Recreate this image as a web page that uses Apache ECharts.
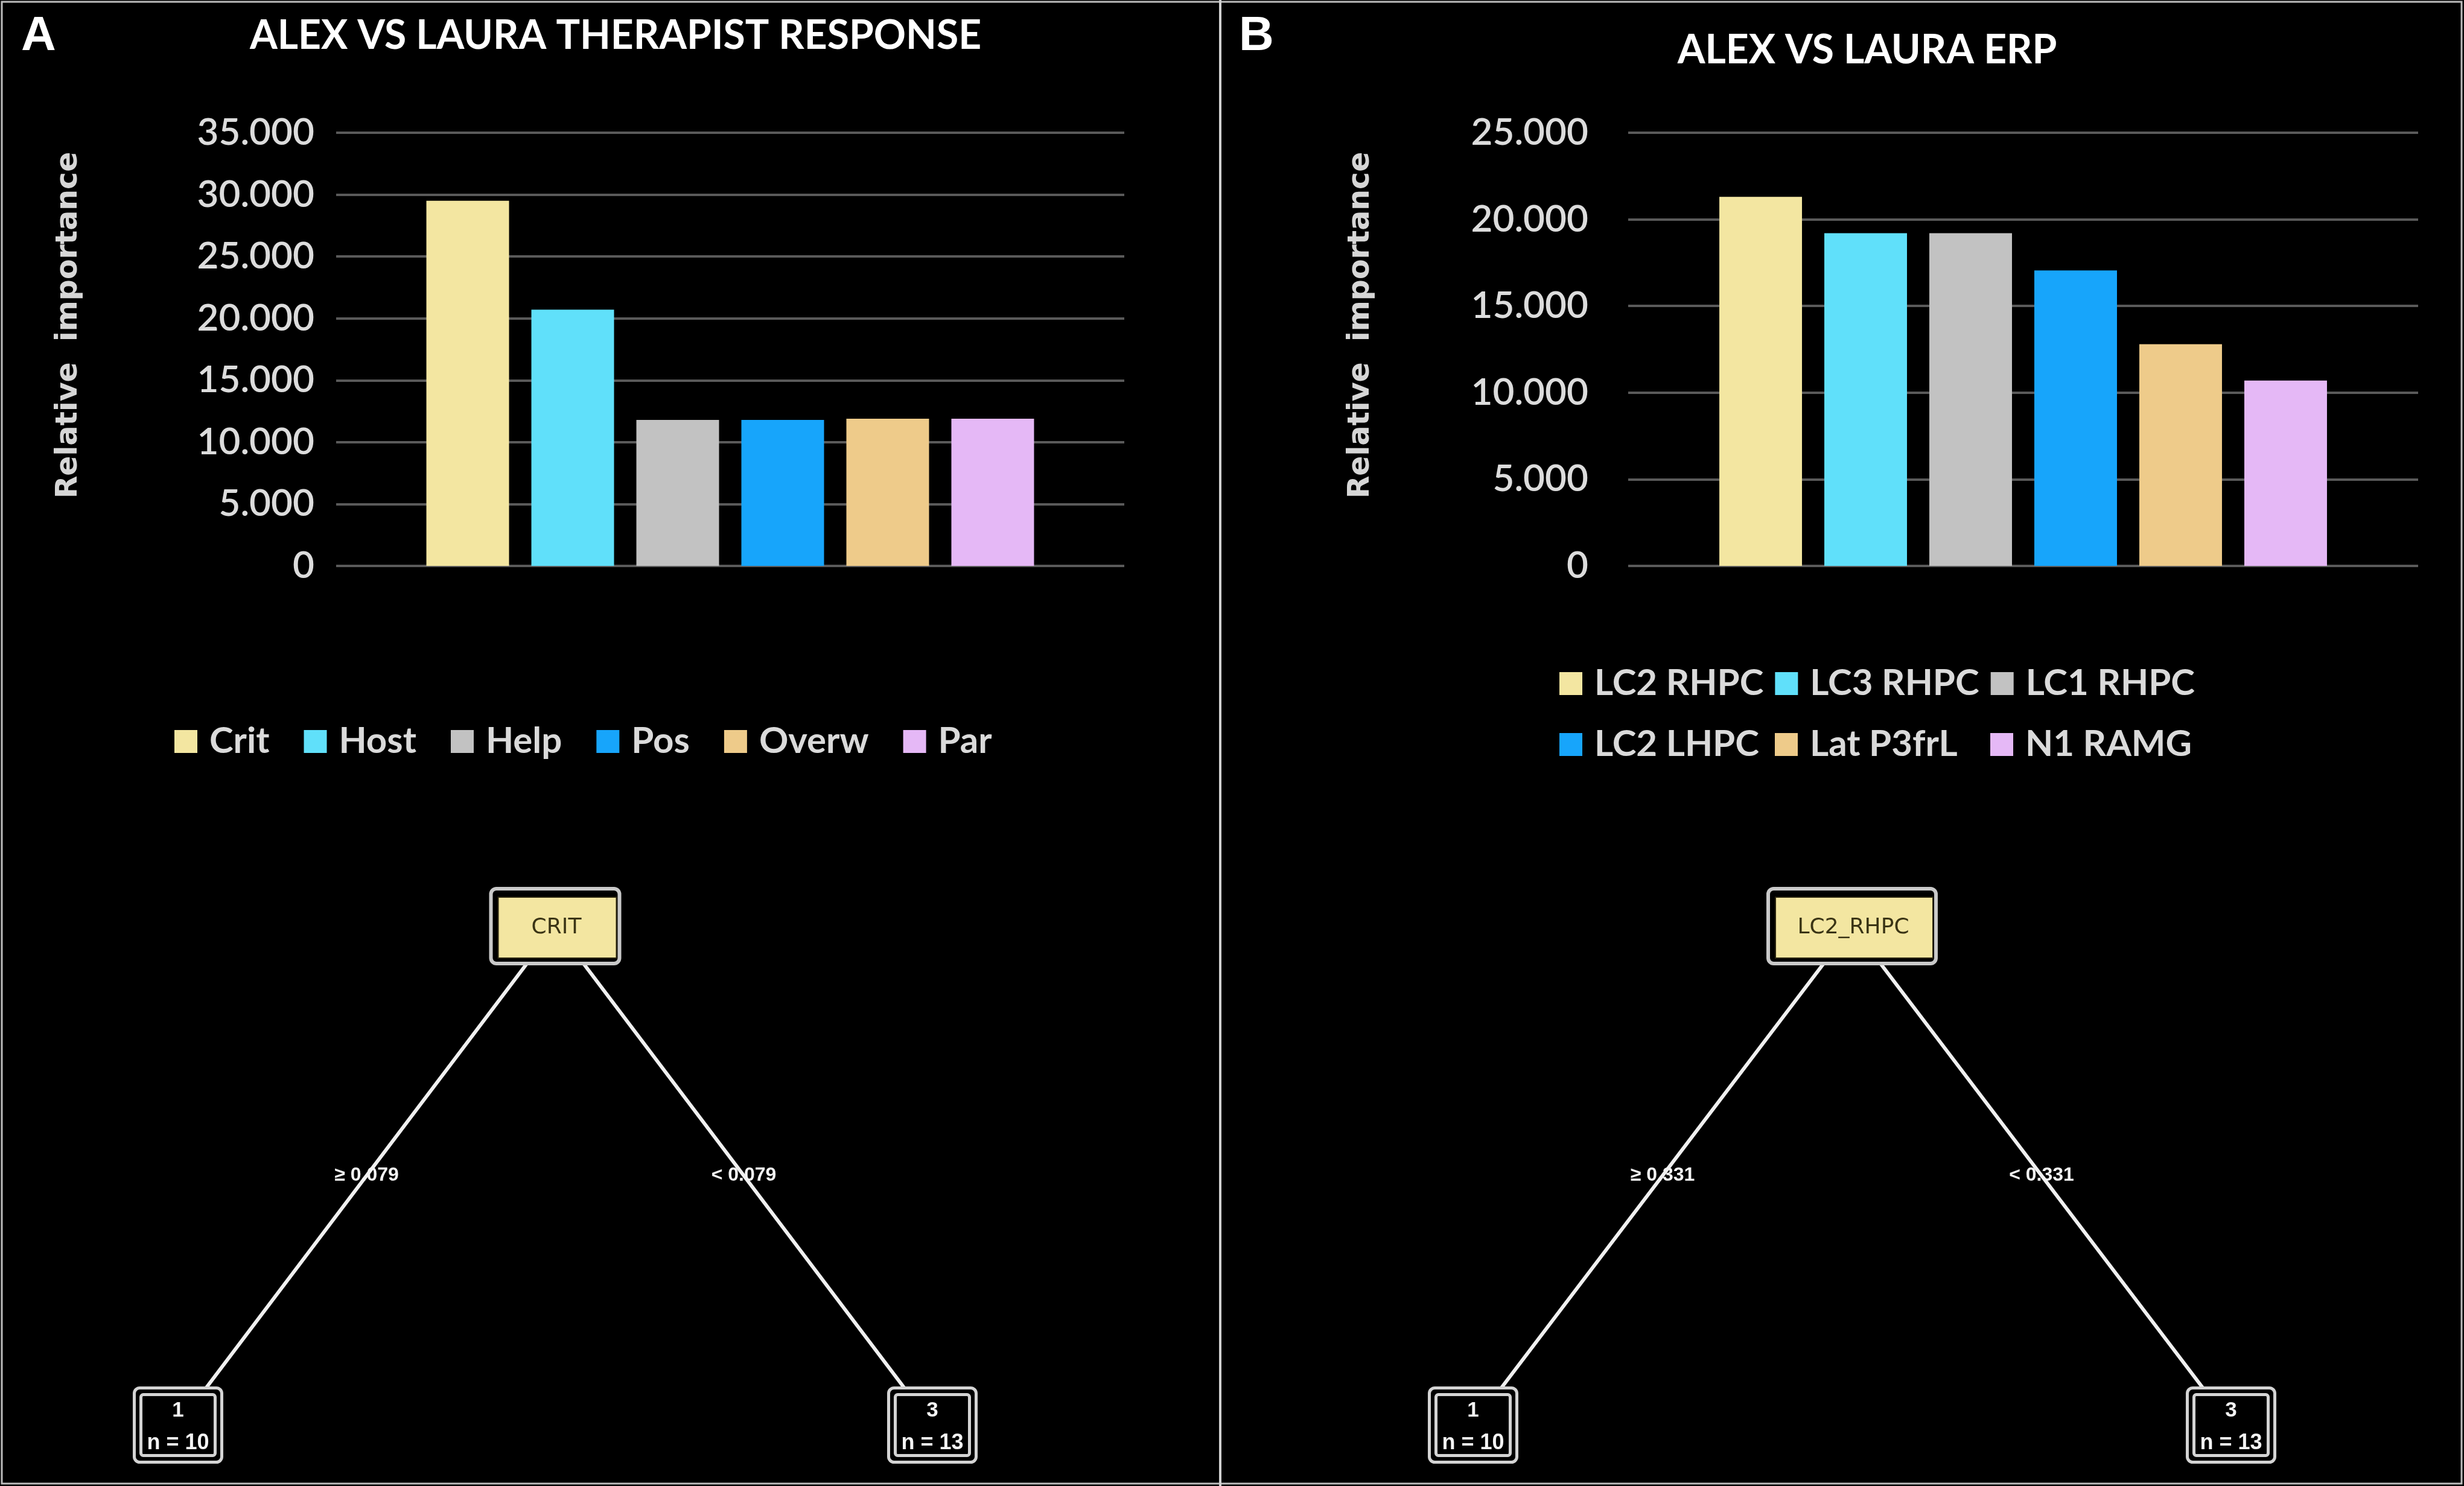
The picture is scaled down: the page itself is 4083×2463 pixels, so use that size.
<!DOCTYPE html>
<html><head><meta charset="utf-8">
<script src="https://cdn.jsdelivr.net/npm/echarts@6/dist/echarts.min.js"></script>
<style>html,body{margin:0;padding:0;background:#000;}#c{width:4083px;height:2463px;}</style>
</head><body><div id="c"></div>
<script>
// ---------- data ----------
const titleA = 'ALEX VS LAURA THERAPIST RESPONSE';
const titleB = 'ALEX VS LAURA ERP';
const namesA = ['Crit', 'Host', 'Help', 'Pos', 'Overw', 'Par'];
const valuesA = [29500, 20700, 11800, 11800, 11900, 11900];
const namesB = ['LC2 RHPC', 'LC3 RHPC', 'LC1 RHPC', 'LC2 LHPC', 'Lat P3frL', 'N1 RAMG'];
const valuesB = [21300, 19200, 19200, 17050, 12800, 10700];
const yMaxA = 35000, yMaxB = 25000, yStep = 5000;
const yAxisName = 'Relative  importance';
const colors = ['#F3E6A1', '#60E0FA', '#C2C2C2', '#17A5FB', '#EECB8A', '#E5B8F6'];
// decision trees
const rootA = 'CRIT', splitA = '0.079';
const rootB = 'LC2_RHPC', splitB = '0.331';
const leafClass = ['1', '3'];
const leafN = [10, 13];

// ---------- helpers ----------
function fmt(v) {
  if (v === 0) return '0';
  const s = String(Math.round(v));
  return s.replace(/\B(?=(\d{3})+(?!\d))/g, '.');
}
const lblFont = 'Lato';
const chart = echarts.init(document.getElementById('c'), null, {renderer: 'canvas'});

function barSeries(names, values, idx) {
  return names.map((n, i) => ({
    name: n, type: 'bar', xAxisIndex: idx, yAxisIndex: idx,
    data: [values[i]], barWidth: 137, barGap: '27%',
    itemStyle: {color: colors[i]}, silent: true
  }));
}

function treeSeries(idx, root, split, boxW) {
  // positions from tree structure: root at depth 0 (y=1), leaves at depth 1 (y=0)
  const leaves = leafClass.map((c, i) => [i === 0 ? -1 : 1, 0, c, 'n = ' + leafN[i]]);
  const edges = leaves.map((l, i) => [0, 1, l[0], l[1], (i === 0 ? '\u2265 ' : '< ') + split]);
  const edgeSeries = {
    type: 'custom', xAxisIndex: idx, yAxisIndex: idx, silent: true, z: 1,
    data: edges,
    renderItem: function (params, api) {
      const p1 = api.coord([api.value(0), api.value(1)]);
      const p2 = api.coord([api.value(2), api.value(3)]);
      const lab = edges[params.dataIndex][4];
      return {type: 'group', children: [
        {type: 'line', shape: {x1: p1[0], y1: p1[1], x2: p2[0], y2: p2[1]},
          style: {stroke: '#f0f0f0', lineWidth: 6}},
        {type: 'text', x: (p1[0] + p2[0]) / 2, y: (p1[1] + p2[1]) / 2,
          style: {text: lab, fill: '#f4f4f4', font: 'bold 32px "Liberation Sans", sans-serif',
            align: 'center', verticalAlign: 'middle'}}
      ]};
    }
  };
  const nodeData = [[0, 1, 'root', root, '']].concat(leaves.map(l => [l[0], l[1], 'leaf', l[2], l[3]]));
  const nodeSeries = {
    type: 'custom', xAxisIndex: idx, yAxisIndex: idx, silent: true, z: 2,
    data: nodeData,
    renderItem: function (params, api) {
      const d = nodeData[params.dataIndex];
      const c = api.coord([d[0], d[1]]);
      if (d[2] === 'root') {
        const w = boxW, h = 124;
        return {type: 'group', children: [
          {type: 'rect', shape: {x: c[0] - w / 2, y: c[1] - h / 2, width: w, height: h, r: 9},
            style: {fill: '#000', stroke: '#c9c9c9', lineWidth: 6}},
          {type: 'rect', shape: {x: c[0] - w / 2 + 12, y: c[1] - h / 2 + 14, width: w - 17, height: h - 23},
            style: {fill: colors[0], stroke: '#2a2510', lineWidth: 2}},
          {type: 'text', x: c[0] + 2, y: c[1] + 3,
            style: {text: d[3], fill: '#3a3415', font: '36px "DejaVu Sans", sans-serif', align: 'center', verticalAlign: 'middle'}}
        ]};
      }
      const w = 145, h = 123;
      return {type: 'group', children: [
        {type: 'rect', shape: {x: c[0] - w / 2, y: c[1] - h / 2, width: w, height: h, r: 9},
          style: {fill: '#000', stroke: '#d4d4d4', lineWidth: 5}},
        {type: 'rect', shape: {x: c[0] - w / 2 + 11, y: c[1] - h / 2 + 11, width: w - 22, height: h - 22, r: 4},
          style: {fill: '#000', stroke: '#d4d4d4', lineWidth: 5}},
        {type: 'text', x: c[0], y: c[1] - 24,
          style: {text: d[3], fill: '#f4f4f4', font: 'bold 35px "Liberation Sans", sans-serif', align: 'center', verticalAlign: 'middle'}},
        {type: 'text', x: c[0], y: c[1] + 30,
          style: {text: d[4], fill: '#f4f4f4', font: 'bold 36px "Liberation Sans", sans-serif', align: 'center', verticalAlign: 'middle'}}
      ]};
    }
  };
  return [edgeSeries, nodeSeries];
}

function barY(idx, max, margin) {
  return {
    type: 'value', gridIndex: idx, min: 0, max: max, interval: yStep,
    name: yAxisName, nameLocation: 'middle', nameGap: 418, nameRotate: 90,
    nameTextStyle: {color: '#d6d6d6', fontFamily: 'DejaVu Sans', fontWeight: 'bold', fontSize: 49, padding: [0, 0, 0, 80]},
    axisLine: {show: false}, axisTick: {show: false},
    axisLabel: {color: '#dcdcdc', fontFamily: lblFont, fontWeight: 600, fontSize: 62, margin: margin, formatter: fmt},
    splitLine: {lineStyle: {color: '#5a5a5a', width: 4}}
  };
}
function hiddenAxis(idx, min, max) {
  return {type: 'value', gridIndex: idx, min: min, max: max, show: false, splitLine: {show: false}};
}

const legendText = {color: '#dadada', fontFamily: lblFont, fontWeight: 'bold', fontSize: 60, lineHeight: 74};

const option = {
  backgroundColor: '#000',
  animation: false,
  title: [
    {text: 'A', left: 30, top: 16, textStyle: {color: '#fff', fontFamily: 'Liberation Sans', fontWeight: 'bold', fontSize: 80}},
    {text: 'B', left: 2048, top: 16, textStyle: {color: '#fff', fontFamily: 'Liberation Sans', fontWeight: 'bold', fontSize: 80}},
    {text: titleA, left: 1015, top: 22, textAlign: 'center', textStyle: {color: '#fff', fontFamily: lblFont, fontWeight: 'bold', fontSize: 66}},
    {text: titleB, left: 3089, top: 46, textAlign: 'center', textStyle: {color: '#fff', fontFamily: lblFont, fontWeight: 'bold', fontSize: 66}}
  ],
  legend: [
    {data: namesA, left: 284, top: 1187, itemWidth: 38, itemHeight: 38, itemGap: 57, icon: 'rect',
      textStyle: Object.assign({padding: [0, 0, 0, 15]}, legendText)},
    {data: namesB.slice(0, 3), left: 2579, top: 1091, itemWidth: 38, itemHeight: 38, itemGap: 19, icon: 'rect',
      textStyle: Object.assign({padding: [0, 0, 0, 15], width: 280}, legendText)},
    {data: namesB.slice(3), left: 2579, top: 1192, itemWidth: 38, itemHeight: 38, itemGap: 19, icon: 'rect',
      textStyle: Object.assign({padding: [0, 0, 0, 15], width: 280}, legendText)}
  ],
  grid: [
    {left: 557, top: 220, width: 1306, height: 718},
    {left: 2698, top: 220, width: 1309, height: 718},
    {left: 295, top: 1535, width: 1250, height: 827},
    {left: 2441, top: 1535, width: 1256, height: 827}
  ],
  xAxis: [
    {type: 'category', gridIndex: 0, data: [''], axisLine: {show: false}, axisTick: {show: false}, axisLabel: {show: false}},
    {type: 'category', gridIndex: 1, data: [''], axisLine: {show: false}, axisTick: {show: false}, axisLabel: {show: false}},
    hiddenAxis(2, -1, 1), hiddenAxis(3, -1, 1)
  ],
  yAxis: [
    barY(0, yMaxA, 36), barY(1, yMaxB, 66),
    hiddenAxis(2, 0, 1), hiddenAxis(3, 0, 1)
  ],
  graphic: [
    {type: 'rect', shape: {x: 3, y: 3, width: 4076, height: 2456}, style: {fill: null, stroke: '#bdbdbd', lineWidth: 3}, silent: true},
    {type: 'line', shape: {x1: 2022, y1: 0, x2: 2022, y2: 2463}, style: {stroke: '#d0d0d0', lineWidth: 4}, silent: true}
  ],
  series: [].concat(
    barSeries(namesA, valuesA, 0),
    barSeries(namesB, valuesB, 1),
    treeSeries(2, rootA, splitA, 213),
    treeSeries(3, rootB, splitB, 278)
  )
};
chart.setOption(option);
</script>
</body></html>
